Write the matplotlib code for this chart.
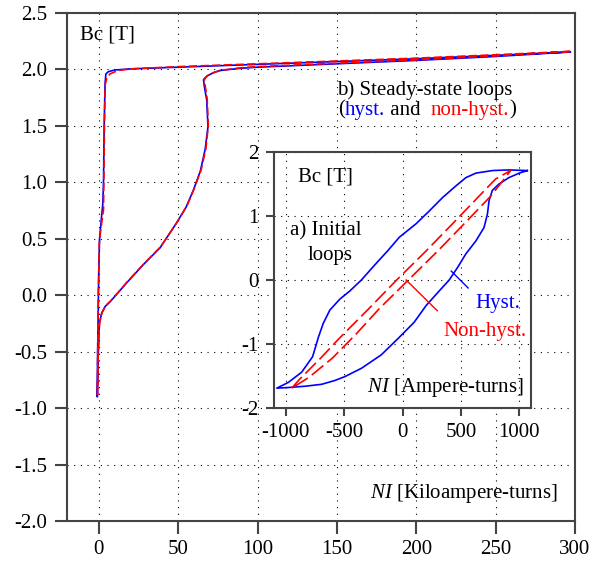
import numpy as np
import matplotlib
matplotlib.use("Agg")
import matplotlib.pyplot as plt

plt.rcParams['font.family'] = ['Liberation Serif', 'DejaVu Serif']
plt.rcParams['mathtext.fontset'] = 'custom'
plt.rcParams['mathtext.rm'] = 'Liberation Serif'
plt.rcParams['mathtext.it'] = 'Liberation Serif:italic'
plt.rcParams['axes.unicode_minus'] = False

# b) steady-state loops, NI in kA-turns, Bc in T
hyst_ni = [297, 250, 200, 150, 100, 50, 20, 10, 6, 4.5, 4, 3.4, 3.0, 2.5, 1.8, 0.5, 0, -0.2, -0.5, -0.8, -0.9,
           -0.5, 0, 0.4, 1.8, 4, 7, 12, 17.6, 28, 38.6, 49, 55, 59.6, 64, 67, 68.8, 68, 66.5, 66, 68, 72, 76, 89,
           100, 150, 200, 250, 297]
hyst_b = [2.155, 2.125, 2.095, 2.07, 2.045, 2.02, 2.005, 1.995, 1.98, 1.96, 1.88, 1.5, 1.0, 0.8, 0.7, 0.5, 0.2,
          0.0, -0.3, -0.6, -0.9, -0.6, -0.4, -0.25, -0.16, -0.1, -0.06, 0.02, 0.11, 0.27, 0.42, 0.64, 0.78, 0.93,
          1.1, 1.29, 1.49, 1.73, 1.85, 1.91, 1.94, 1.97, 1.99, 2.01, 2.02, 2.05, 2.08, 2.115, 2.155]

nonhyst_ni = [297, 250, 200, 150, 100, 50, 20, 12, 7, 5, 4, 3.6, 3.2, 3.0, 1.0, 0.3, 0, -0.3, -0.5, -0.7, -0.8,
              -0.4, 0, 0.6, 2.2, 4.5, 7.5, 12.5, 18, 28.5, 39, 49.5, 55.5, 60, 64.5, 67.5, 69, 68.3, 67, 66.5,
              68.5, 73, 78, 90, 100, 150, 200, 250, 297]
nonhyst_b = [2.16, 2.13, 2.1, 2.075, 2.05, 2.025, 2.005, 1.99, 1.96, 1.92, 1.86, 1.5, 1.0, 0.76, 0.55, 0.45, 0.2,
             0.0, -0.3, -0.6, -0.88, -0.55, -0.38, -0.24, -0.15, -0.09, -0.05, 0.03, 0.12, 0.28, 0.43, 0.65,
             0.79, 0.94, 1.11, 1.3, 1.5, 1.74, 1.86, 1.91, 1.945, 1.975, 1.995, 2.015, 2.025, 2.055, 2.085,
             2.12, 2.16]

# a) initial loops, NI in A-turns
init_hyst_ni = [1068, 911, 769, 628, 543, 457, 344, 230, 117, -26, -125, -240, -352, -450, -537, -622, -679,
                -721, -745, -770, -863, -977, -1076, -977, -835, -693, -579, -494, -352, -182, -30, 100, 202,
                300, 400, 480, 543, 628, 698, 727, 741, 769, 826, 911, 1000, 1068]
init_hyst_b = [1.71, 1.72, 1.71, 1.67, 1.60, 1.47, 1.29, 1.08, 0.88, 0.67, 0.46, 0.23, 0.0, -0.17, -0.3, -0.47,
               -0.68, -0.9, -1.05, -1.2, -1.44, -1.60, -1.69, -1.68, -1.66, -1.63, -1.57, -1.51, -1.38, -1.17,
               -0.90, -0.66, -0.40, -0.20, 0.0, 0.22, 0.41, 0.61, 0.82, 1.03, 1.24, 1.40, 1.50, 1.60, 1.67, 1.71]

init_nonhyst_ni = [-948, -891, -700, -551, -300, -50, 200, 450, 650, 798, 926, 880, 750, 550, 300, 50, -200,
                   -400, -600, -800, -948]
init_nonhyst_b = [-1.69, -1.57, -1.22, -0.93, -0.47, 0.0, 0.45, 0.92, 1.3, 1.58, 1.71, 1.6, 1.3, 0.92, 0.45,
                  0.0, -0.45, -0.85, -1.22, -1.52, -1.69]

main_xticks = [0, 50, 100, 150, 200, 250, 300]
main_yticks = [-2.0, -1.5, -1.0, -0.5, 0.0, 0.5, 1.0, 1.5, 2.0, 2.5]
inset_xticks = [-1000, -500, 0, 500, 1000]
inset_yticks = [-2, -1, 0, 1, 2]

W, H = 612, 569
fig = plt.figure(figsize=(W / 100, H / 100), dpi=100)

spine_c = '#444444'
grid_kw = dict(color='k', linestyle=(0, (1, 5)), linewidth=0.8)


def style(ax, ticklen):
    for s in ax.spines.values():
        s.set_color(spine_c)
        s.set_linewidth(1.5)
    ax.tick_params(direction='out', length=ticklen, width=1.5, color=spine_c,
                   labelsize=15, labelcolor='k', pad=5)
    ax.grid(True, **grid_kw)
    ax.set_axisbelow(True)


# main axes
ax = fig.add_axes([67 / W, (H - 521) / H, 508 / W, 508 / H])
ax.plot(hyst_ni, hyst_b, color='#0000ff', lw=1.2)
ax.plot(nonhyst_ni, nonhyst_b, color='#ff0000', lw=1.2, dashes=(5, 2))
ax.set_xlim(-20, 300)
ax.set_ylim(-2.0, 2.5)
ax.set_xticks(main_xticks)
ax.set_yticks(main_yticks)
ax.set_yticklabels([f"{v:.1f}" for v in main_yticks])
style(ax, 9)

ax.text(0.026, 0.957, "Bc [T]", transform=ax.transAxes, fontsize=15, va='center', ha='left')
ax.text(0.531, 0.848, "b) Steady-state loops", transform=ax.transAxes, fontsize=15, va='center', ha='left')
t = ax.text(0.533, 0.809, "(", transform=ax.transAxes, fontsize=15, va='center', ha='left')
for word, col in [("hyst.", '#0000ff'), (" and  ", 'k'), ("non-hyst.", '#ff0000'), (")", 'k')]:
    t = ax.annotate(word, xy=(1, 0), xycoords=t, va='bottom', ha='left', fontsize=15, color=col)
ax.text(0.966, 0.055, r"$\mathit{NI}$ [Kiloampere-turns]", transform=ax.transAxes, fontsize=15,
        va='center', ha='right')

# inset
axin = fig.add_axes([274 / W, (H - 408) / H, 257 / W, 256 / H])
axin.set_facecolor('white')
axin.plot(init_hyst_ni, init_hyst_b, color='#0000ff', lw=1.2)
axin.plot(init_nonhyst_ni, init_nonhyst_b, color='#ff0000', lw=1.2, dashes=(9, 3))
axin.plot([417, 562], [0.14, -0.125], color='#0000ff', lw=1.0)
axin.plot([31, 298], [0.0, -0.48], color='#ff0000', lw=1.0)
axin.set_xlim(-1100, 1100)
axin.set_ylim(-2, 2)
axin.set_xticks(inset_xticks)
axin.set_yticks(inset_yticks)
style(axin, 6)

axin.text(0.093, 0.902, "Bc [T]", transform=axin.transAxes, fontsize=15, va='center', ha='left')
axin.text(0.062, 0.691, "a) Initial", transform=axin.transAxes, fontsize=15, va='center', ha='left')
axin.text(0.132, 0.594, "loops", transform=axin.transAxes, fontsize=15, va='center', ha='left')
axin.text(0.957, 0.41, "Hyst.", transform=axin.transAxes, fontsize=15, va='center', ha='right',
          color='#0000ff')
axin.text(0.984, 0.30, "Non-hyst.", transform=axin.transAxes, fontsize=15, va='center', ha='right',
          color='#ff0000')
axin.text(0.969, 0.082, r"$\mathit{NI}$ [Ampere-turns]", transform=axin.transAxes, fontsize=15,
          va='center', ha='right')

fig.savefig("out.png", dpi=100)
